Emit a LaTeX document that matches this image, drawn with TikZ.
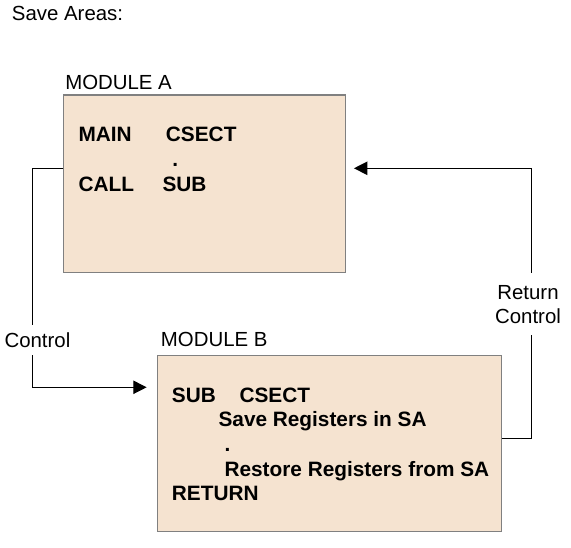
\documentclass[tikz,border=0pt]{standalone}
\usepackage{fontspec}
\setmainfont{Liberation Sans}
\usetikzlibrary{arrows.meta,calc}
\definecolor{boxfill}{RGB}{245,227,208}
\definecolor{boxline}{RGB}{128,128,128}
\tikzset{
	modbox/.style={draw=boxline,fill=boxfill,line width=0.9pt,inner sep=0pt,outer sep=0pt},
	lbl/.style={font=\fontsize{15.3}{18.2}\selectfont,inner sep=0pt,anchor=base west},
	code/.style={lbl,font=\fontsize{15.6}{18.2}\selectfont\bfseries},
	wire/.style={draw,line width=0.9pt},
	flow/.style={wire,-{Triangle[length=10pt,width=10pt]}}
}
\begin{document}
\begin{tikzpicture}[x=0.75pt,y=0.75pt]
      \useasboundingbox (0,0) rectangle (571,548);
      \node [lbl] (title) at (11.7,527) {Save Areas:};
      \node [modbox,minimum width=211.8pt,minimum height=133pt] (modA) at (204.5,364.3) {};
      \node [lbl] (labA) at (65,458) {MODULE A};
      \node [code] (mainA) at (78.3,406.3) {MAIN};
      \node [code] (csectA) at (165.7,406.3) {CSECT};
      \node [code] (dotA) at (172,381.3) {.};
      \node [code] (callA) at (78.3,356.3) {CALL};
      \node [code] (subA) at (162.3,356.3) {SUB};
      \node [modbox,minimum width=258.3pt,minimum height=132pt] (modB) at (329.5,104.3) {};
      \node [lbl] (labB) at (160.7,201.3) {MODULE B};
      \node [code] (subB) at (171.7,145.7) {SUB};
      \node [code] (csectB) at (239.3,145.7) {CSECT};
      \node [code] (saveB) at (218.3,121.3) {Save Registers in SA};
      \node [code] (dotB) at (224.3,96.3) {.};
      \node [code] (restB) at (224.3,71.3) {Restore Registers from SA};
      \node [code] (retB) at (171.7,47) {RETURN};
      \node [lbl,outer ysep=6pt] (ctl) at (4.3,200.7) {Control};
      \node [lbl,anchor=base,align=center,outer ysep=9pt] (ret) at (528,224.7) {Return\\Control};
      \coordinate (ya) at (0,379.7);
      \coordinate (yb) at (0,160.7);
      \coordinate (yr) at (0,109.7);
      \coordinate (lx) at (32.3,0);
      \coordinate (rx) at (531.7,0);
      \draw [wire] (modA.west |- ya) -| (ctl.north -| lx);
      \draw [flow,shorten >=8pt] (ctl.south -| lx) |- (modB.west |- yb);
      \draw [wire] (modB.east |- yr) -| (ret.south -| rx);
      \draw [flow,shorten >=6.2pt] (ret.north -| rx) |- (modA.east |- ya);
   \end{tikzpicture}
\end{document}
